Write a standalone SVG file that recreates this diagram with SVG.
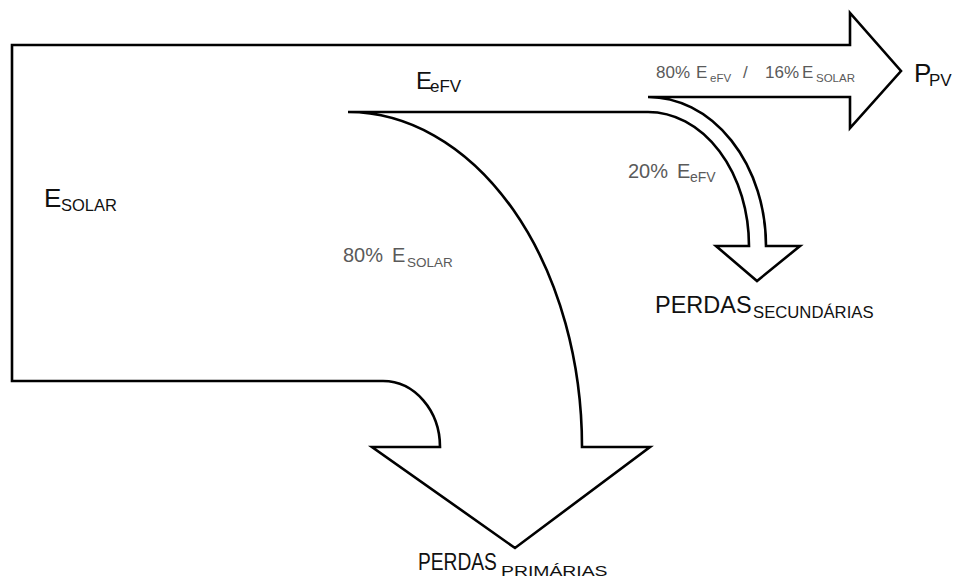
<svg xmlns="http://www.w3.org/2000/svg" width="954" height="581" viewBox="0 0 954 581">
<style>
.outline{fill:none;stroke:#000;stroke-width:2.6;stroke-linejoin:miter}
.main{font-family:"Liberation Sans",Arial,sans-serif;fill:#111}
.pct{font-family:"Liberation Sans",Arial,sans-serif;fill:#5a5a5a}
</style>
<rect width="954" height="581" fill="#fff"/>
<g id="connectors">
<path class="outline" d="M12,45 H850 V13 L901,71 L850,128 V97 H648 A118,149 0 0 1 766,246 H800 L757,281 L716,246 H749 A101,134 0 0 0 648,112 H348 A234,335 0 0 1 582,447 H650 L515,548 L372,447 H440 A57,66 0 0 0 383,381 H12 Z"/>
</g>
<g id="node-esolar">
<text class="main" x="44" y="207" font-size="26">E</text>
<text class="main" x="61" y="211" font-size="16.5">SOLAR</text>
</g>
<g id="node-eefv">
<text class="main" x="416" y="89" font-size="24">E</text>
<text class="main" x="430" y="92" font-size="17">eFV</text>
</g>
<g id="node-ppv">
<text class="main" x="914" y="82" font-size="26">P</text>
<text class="main" x="929" y="86" font-size="17">PV</text>
</g>
<g id="node-perdas-primarias">
<text class="main" transform="translate(418,570) scale(0.8,1)" font-size="24">PERDAS</text>
<text class="main" transform="translate(501,576) scale(1.25,1)" font-size="15.5">PRIMÁRIAS</text>
</g>
<g id="node-perdas-secundarias">
<text class="main" x="655" y="313" font-size="23.5">PERDAS</text>
<text class="main" x="753" y="318" font-size="16.7">SECUNDÁRIAS</text>
</g>
<g id="label-80-esolar">
<text class="pct" x="343" y="262" font-size="20">80%</text>
<text class="pct" x="392" y="262" font-size="20">E</text>
<text class="pct" x="407" y="267" font-size="13.5">SOLAR</text>
</g>
<g id="label-20-eefv">
<text class="pct" x="628" y="178" font-size="20">20%</text>
<text class="pct" x="677" y="178" font-size="20">E</text>
<text class="pct" x="690" y="182" font-size="14">eFV</text>
</g>
<g id="label-80-eefv-16-esolar">
<text class="pct" x="656" y="78" font-size="17">80%</text>
<text class="pct" x="696" y="78" font-size="17">E</text>
<text class="pct" x="710" y="82" font-size="11.5">eFV</text>
<text class="pct" x="743" y="78" font-size="17">/</text>
<text class="pct" x="765" y="78" font-size="17">16%</text>
<text class="pct" x="802" y="78" font-size="17">E</text>
<text class="pct" x="816" y="82" font-size="11.5">SOLAR</text>
</g>
</svg>
